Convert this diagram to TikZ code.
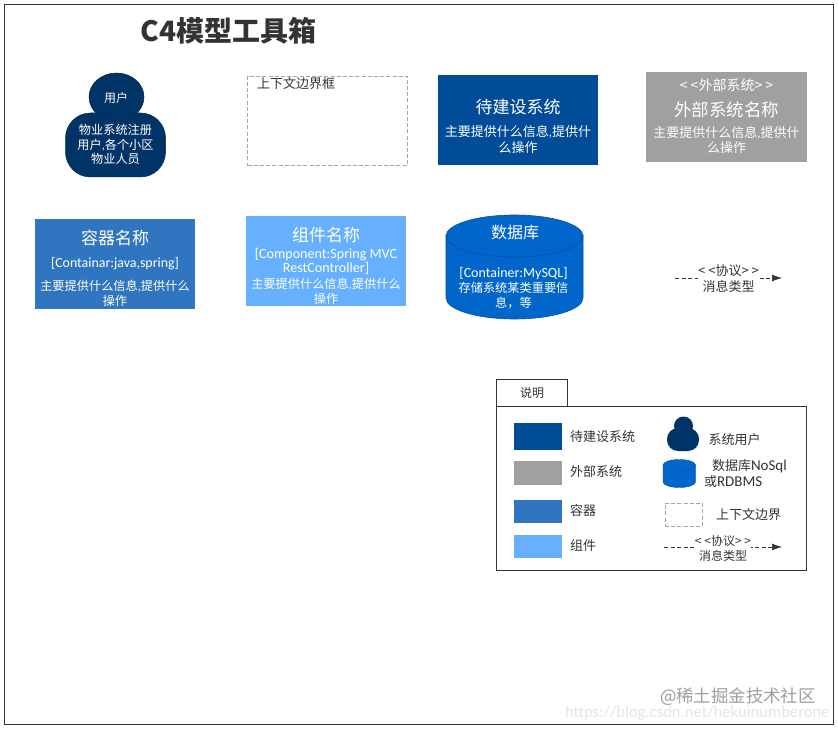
\documentclass[tikz,border=0pt]{standalone}
\usepackage{fontspec}
\setmainfont{Noto Sans CJK SC}
\newfontfamily\latf{Carlito}
\usetikzlibrary{shapes.geometric,arrows.meta}
\definecolor{cUser}{HTML}{003366}
\definecolor{cSys}{HTML}{004C99}
\definecolor{cExt}{HTML}{A0A0A0}
\definecolor{cCont}{HTML}{3075BF}
\definecolor{cComp}{HTML}{66B0FF}
\definecolor{cDb}{HTML}{0066CC}
\definecolor{cDbEdge}{HTML}{0050A6}
\definecolor{cInk}{HTML}{333333}
\newcommand{\fsz}[1]{\fontsize{#1pt}{#1pt}\selectfont}
\newcommand{\lt}[1]{{\latf #1}}
\tikzset{
  every node/.style={inner sep=0pt,outer sep=0pt},
  solidbox/.style n args={3}{rectangle,fill=#1,minimum width=#2,minimum height=#3},
  ctxbox/.style n args={2}{rectangle,draw=black!35,dash pattern=on 4pt off 2.2pt,line width=.9pt,minimum width=#1,minimum height=#2},
  wt/.style={text=white,align=center},
  ink/.style={text=cInk,align=center},
  inkl/.style={text=cInk,anchor=west,align=left},
  head/.style={text=white,align=center,font=\fsz{17}},
  sub/.style={text=white,align=center,font=\fontsize{13pt}{15.2pt}\selectfont},
  msg/.style={dash pattern=on 4pt off 2.5pt,draw=cInk,line width=.7pt,-{Latex[length=10pt,width=7pt]}},
  msglabel/.style={fill=white,text=cInk,align=center},
  panel/.style={draw=cInk,line width=.8pt,rectangle},
}
\begin{document}
\begin{tikzpicture}[x=1pt,y=-1pt]
\useasboundingbox (0,0) rectangle (838,730);
\fill[white] (0,0) rectangle (838,730);
\node[panel,minimum width=829pt,minimum height=720pt] (frame) at (418.5,364) {};

\node[text=cInk,font=\fsz{28}\bfseries] (title) at (228.5,31) {C4模型工具箱};

% user
\node[rectangle,rounded corners=25pt,fill=cUser,draw=cUser!80!black,line width=.5pt,minimum width=100pt,minimum height=64pt] (ubody) at (115.5,145) {};
\node[ellipse,fill=cUser,draw=cUser!80!black,line width=.5pt,minimum width=55pt,minimum height=48pt] (uhead) at (116.5,97) {};
\node[wt,font=\fsz{12}] (utitle) at (116,97.5) {用户};
\node[wt,font=\fontsize{12.2}{14.6}\selectfont] (utext) at (115.5,144.5) {物业系统注册\\用户\lt{,}各个小区\\物业人员};

% context boundary
\node[ctxbox={160pt}{89.5pt}] (ctx) at (327.5,120.8) {};
\node[inkl,font=\fsz{13}] (ctxl) at (257,84) {上下文边界框};

% system
\node[solidbox={cSys}{160pt}{90pt}] (sys) at (518,120) {};
\node[head] (syst) at (518,107) {待建设系统};
\node[sub] (syss) at (518,139.5) {主要提供什么信息\lt{,}提供什\\么操作};

% external
\node[solidbox={cExt}{161pt}{90pt}] (ext) at (726.5,117) {};
\node[text=white,font=\fsz{14}] (extq) at (726.5,85) {< <外部系统> >};
\node[head,font=\fsz{17.5}] (extt) at (726.5,110) {外部系统名称};
\node[sub] (exts) at (726.5,140) {主要提供什么信息\lt{,}提供什\\么操作};

% container
\node[solidbox={cCont}{160pt}{90pt}] (cont) at (115,264) {};
\node[head] (contt) at (115,238) {容器名称};
\node[text=white,font=\fsz{13.9}\latf] (conts) at (115,264) {[Containar:java,spring]};
\node[sub,font=\fontsize{12.2pt}{15.2pt}\selectfont] (contd) at (115,293.5) {主要提供什么信息\lt{,}提供什么\\操作};

% component
\node[solidbox={cComp}{160pt}{90pt}] (comp) at (326,261) {};
\node[head] (compt) at (326,235) {组件名称};
\node[text=white,align=center,font=\fontsize{14.1}{14}\selectfont\latf] (comps) at (326,261) {[Component:Spring MVC\\RestController]};
\node[sub,font=\fontsize{12.2pt}{15.2pt}\selectfont] (compd) at (326,291.5) {主要提供什么信息\lt{,}提供什么\\操作};

% database
\path[fill=cDb,draw=cDbEdge,line width=.6pt] (446,236) arc[start angle=180,end angle=360,x radius=68.5,y radius=-21] -- (583,298) arc[start angle=0,end angle=-180,x radius=68.5,y radius=-21] -- cycle;
\path[fill=cDb,draw=cDbEdge,line width=.6pt] (514.5,236) ellipse[x radius=68.5,y radius=21];
\node[head,font=\fsz{16}] (dbt) at (515,232) {数据库};
\node[wt,font=\fontsize{12.2pt}{14.6pt}\selectfont] (dbd) at (513.5,288) {\lt{\fontsize{14pt}{14.6pt}\selectfont [Container:MySQL]}\\存储系统某类重要信\\息，等};

% message
\coordinate (m1) at (675,278);
\coordinate (m2) at (782,278);
\draw[msg] (m1) -- (m2);
\node[msglabel,font=\fontsize{13}{16}\selectfont] (ml) at (728.5,279) {< <协议> >\\消息类型};

% legend
\node[panel,minimum width=71pt,minimum height=27pt] (ltab) at (532,392.5) {};
\node[ink,font=\fsz{12}] (ltabt) at (532,393) {说明};
\node[panel,minimum width=310pt,minimum height=164pt] (lbox) at (651.5,488) {};

\node[solidbox={cSys}{48pt}{27pt}] (l1) at (538,436.5) {};
\node[solidbox={cExt}{48pt}{24pt}] (l2) at (538,473) {};
\node[solidbox={cCont}{48pt}{23pt}] (l3) at (538,511.5) {};
\node[solidbox={cComp}{48pt}{23pt}] (l4) at (538,546.5) {};
\node[inkl,font=\fsz{13}] (l1t) at (570,437) {待建设系统};
\node[inkl,font=\fsz{13}] (l2t) at (570,472) {外部系统};
\node[inkl,font=\fsz{13}] (l3t) at (570,511) {容器};
\node[inkl,font=\fsz{13}] (l4t) at (570,546) {组件};

\node[rectangle,rounded corners=11pt,fill=cUser,minimum width=32pt,minimum height=23pt] (l5b) at (683,439.5) {};
\node[circle,fill=cUser,minimum size=19pt] (l5h) at (683.5,426) {};
\node[inkl,font=\fsz{13}] (l5t) at (708.5,440) {系统用户};

\path[fill=cDb,draw=cDbEdge,line width=.4pt] (663,465) arc[start angle=180,end angle=360,x radius=16.25,y radius=-5.5] -- (695.5,482) arc[start angle=0,end angle=-180,x radius=16.25,y radius=-5.5] -- cycle;
\path[fill=cDb,draw=cDbEdge,line width=.4pt] (679.25,465) ellipse[x radius=16.25,y radius=5.5];
\node[inkl,font=\fsz{13}] (l6a) at (712,466) {数据库\lt{\fsz{15}NoSql}};
\node[inkl,font=\fsz{13}] (l6b) at (704,482) {或\lt{\fsz{15}RDBMS}};

\node[ctxbox={37pt}{23pt},line width=.7pt] (l7) at (683.5,514.5) {};
\node[inkl,font=\fsz{13}] (l7t) at (716,514.5) {上下文边界};

\coordinate (l8a) at (664,547);
\coordinate (l8b) at (782,547);
\draw[msg] (l8a) -- (l8b);
\node[msglabel,font=\fontsize{12}{15}\selectfont] (l8t) at (723,548.5) {< <协议> >\\消息类型};

% watermark
\node[text=black!38,font=\fsz{17.4},anchor=west] (wm1) at (660,697) {@稀土掘金技术社区};
\node[text=black!10,font=\fsz{16.6}\latf,anchor=west] (wm2) at (565,713) {https://blog.csdn.net/hekuinumberone};
\end{tikzpicture}
\end{document}
